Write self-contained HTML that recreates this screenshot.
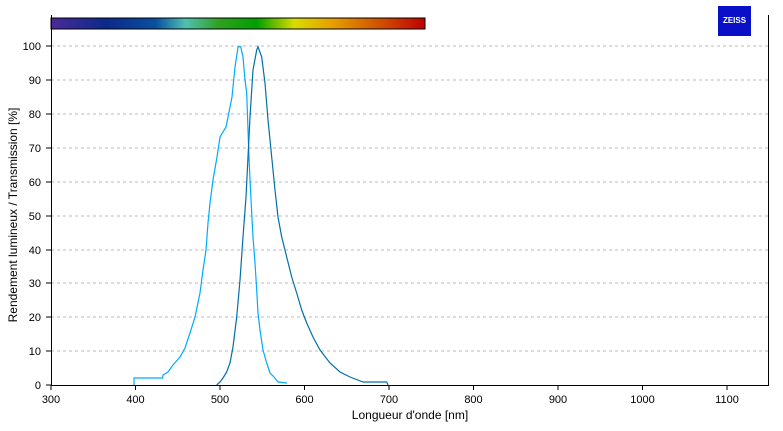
<!DOCTYPE html>
<html><head><style>body{margin:0;background:#fff}</style></head><body>
<svg width="783" height="426" xmlns="http://www.w3.org/2000/svg" font-family="Liberation Sans, sans-serif" font-size="11">
<defs><linearGradient id="g" x1="0" x2="1">
<stop offset="0" stop-color="#4a2a9a"/><stop offset="0.15" stop-color="#0a2a8a"/><stop offset="0.28" stop-color="#0a50a0"/><stop offset="0.36" stop-color="#50c0b0"/><stop offset="0.45" stop-color="#30a020"/><stop offset="0.55" stop-color="#00a000"/><stop offset="0.65" stop-color="#d8dc00"/><stop offset="0.75" stop-color="#e8a000"/><stop offset="0.88" stop-color="#d05000"/><stop offset="1" stop-color="#c00000"/></linearGradient></defs>
<rect x="51" y="18" width="374" height="11" fill="url(#g)" stroke="#000" stroke-width="1"/>
<rect x="718" y="6" width="33" height="30" fill="#0a10c8"/>
<text x="734.5" y="23" fill="#fff" font-size="8" font-weight="bold" text-anchor="middle">ZEISS</text>
<g stroke="#bbb" stroke-dasharray="3,3">
<line x1="51" x2="769" y1="46" y2="46"/><line x1="51" x2="769" y1="80" y2="80"/><line x1="51" x2="769" y1="114" y2="114"/><line x1="51" x2="769" y1="148" y2="148"/><line x1="51" x2="769" y1="182" y2="182"/><line x1="51" x2="769" y1="216" y2="216"/><line x1="51" x2="769" y1="250" y2="250"/><line x1="51" x2="769" y1="283" y2="283"/><line x1="51" x2="769" y1="317" y2="317"/><line x1="51" x2="769" y1="351" y2="351"/>
</g>
<g stroke="#000" fill="none">
<line x1="51.5" y1="15" x2="51.5" y2="385"/><line x1="768.5" y1="15" x2="768.5" y2="385"/><line x1="51" y1="385.5" x2="769" y2="385.5"/>
<line x1="46" x2="51" y1="46" y2="46"/><line x1="46" x2="51" y1="80" y2="80"/><line x1="46" x2="51" y1="114" y2="114"/><line x1="46" x2="51" y1="148" y2="148"/><line x1="46" x2="51" y1="182" y2="182"/><line x1="46" x2="51" y1="216" y2="216"/><line x1="46" x2="51" y1="250" y2="250"/><line x1="46" x2="51" y1="283" y2="283"/><line x1="46" x2="51" y1="317" y2="317"/><line x1="46" x2="51" y1="351" y2="351"/><line x1="46" x2="51" y1="385" y2="385"/>
<g transform="translate(0,385)"><line x1="51" x2="51" y2="5"/><line x1="135.5" x2="135.5" y2="5"/><line x1="220" x2="220" y2="5"/><line x1="304.5" x2="304.5" y2="5"/><line x1="389" x2="389" y2="5"/><line x1="473.5" x2="473.5" y2="5"/><line x1="558" x2="558" y2="5"/><line x1="642.5" x2="642.5" y2="5"/><line x1="727" x2="727" y2="5"/></g>
</g>
<g text-anchor="end">
<text x="41" y="50">100</text><text x="41" y="84">90</text><text x="41" y="118">80</text><text x="41" y="152">70</text><text x="41" y="186">60</text><text x="41" y="220">50</text><text x="41" y="254">40</text><text x="41" y="287">30</text><text x="41" y="321">20</text><text x="41" y="355">10</text><text x="41" y="389">0</text>
</g>
<g text-anchor="middle">
<text x="51" y="403">300</text><text x="135.5" y="403">400</text><text x="220" y="403">500</text><text x="304.5" y="403">600</text><text x="389" y="403">700</text><text x="473.5" y="403">800</text><text x="558" y="403">900</text><text x="642.5" y="403">1000</text><text x="727" y="403">1100</text>
<text x="410" y="419" font-size="12">Longueur d'onde [nm]</text>
<text transform="translate(17,215) rotate(-90)" font-size="12">Rendement lumineux / Transmission [%]</text>
</g>
<polyline fill="none" stroke="#00aaff" stroke-width="1.2" points="134,385 134,378 162.7,378 163,375 168,372 173,365 180,357 185,348 190,333 195,317 200,293 203,270 206,250 208,223 210,203 213,180 217,157 220,137 226,127 228,117 232,97 235,67 238,47 240.7,46.7 243,57 245,80 246.7,93 248,130 249,157 250,180 251.7,213 253,237 255,263 256.7,290 258,313 260,330 263,350 266.7,363 270,373 274,377 278,382 287,383"/>
<polyline fill="none" stroke="#0070a8" stroke-width="1.2" points="216.7,385 220,382 223,378 226.7,372 230,363 233,347 236.7,317 240,280 243,237 246,197 248,157 250,117 253,70 256.7,50 258,46.7 261.7,57 265,83 268,120 271.7,157 275,190 278,217 281.7,237 286.7,257 291.7,277 296.7,293 301.7,310 306.7,323 313,337 320,350 330,363 340,372 350,377 363,382 386.7,382 388,385"/>
</svg>
</body></html>
